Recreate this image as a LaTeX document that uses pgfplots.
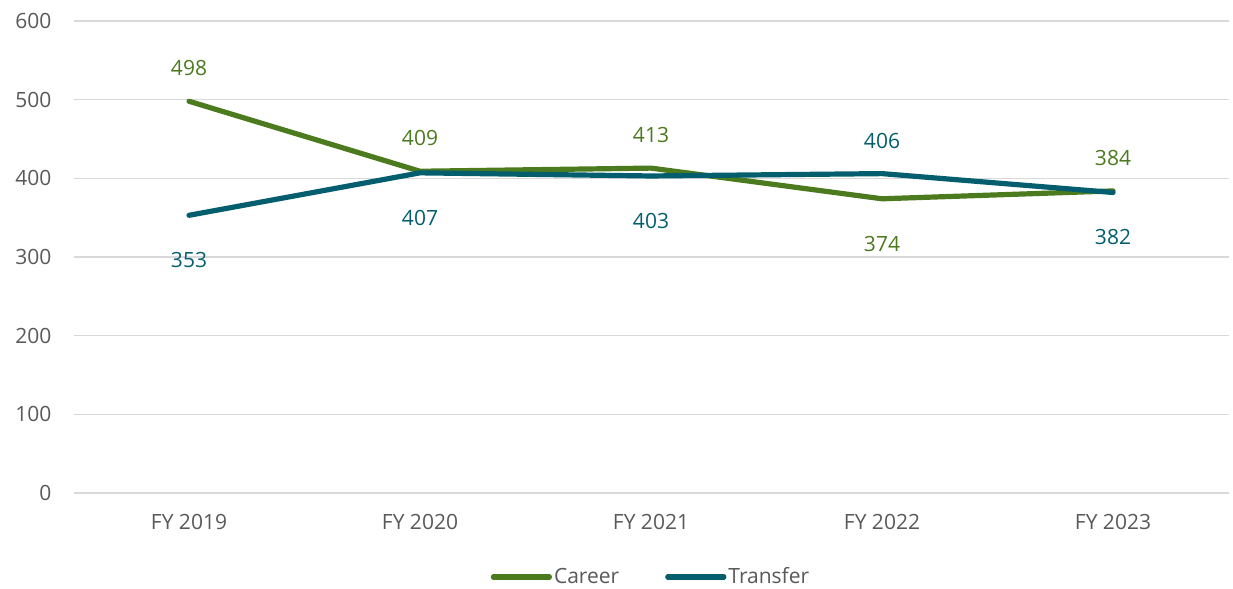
\documentclass[border=0pt]{standalone}
\usepackage{pgfplots}
\pgfplotsset{compat=1.18}
\usepackage{fontspec}
\setmainfont{Open Sans}
\definecolor{career}{RGB}{76,122,30}
\definecolor{transfer}{RGB}{4,94,110}
\definecolor{txt}{RGB}{89,89,89}
\definecolor{gridc}{RGB}{217,217,217}

\begin{document}
\begin{tikzpicture}
\useasboundingbox (-36.75pt,-48pt) rectangle (579.75pt,246.5pt);
\begin{axis}[
    scale only axis,
    width=577.5pt, height=236pt,
    xmin=-0.5, xmax=4.5, ymin=0, ymax=600,
    xtick={0,1,2,3,4},
    xticklabels={FY 2019, FY 2020, FY 2021, FY 2022, FY 2023},
    ytick={0,100,...,600},
    axis line style={draw=none},
    major tick length=0pt,
    ymajorgrids, grid style={gridc, line width=0.8pt},
    tick label style={font=\fontsize{10.5}{12}\selectfont, text=txt},
    /pgf/number format/assume math mode=true,
    xticklabel style={yshift=-7pt},
    yticklabel style={xshift=-7.5pt},
    legend style={at={(0.5,0)}, anchor=center, yshift=-42pt, draw=none,
        legend columns=-1, font=\fontsize{10.5}{12}\selectfont, text=txt,
        /tikz/every odd column/.append style={column sep=0pt},
        /tikz/every even column/.append style={column sep=22pt},
        /tikz/every node/.append style={inner xsep=1pt}},
    legend image code/.code={\draw[#1, line cap=round] (0pt,0pt) -- (28pt,0pt);},
    nodes near coords style={font=\fontsize{10.5}{12}\selectfont, anchor=center},
]
\addplot[career, line width=2.6pt, line join=round, line cap=round] coordinates {
    (0,498) (1,409) (2,413) (3,374) (4,384)
};
\addlegendentry{Career}
\addplot[transfer, line width=2.6pt, line join=round, line cap=round] coordinates {
    (0,353) (1,407) (2,403) (3,406) (4,382)
};
\addlegendentry{Transfer}
% data labels
\addplot[draw=none, forget plot, nodes near coords,
    every node near coord/.append style={text=career, yshift=16.5pt}] coordinates {
    (0,498) (1,409) (2,413) (4,384)
};
\addplot[draw=none, forget plot, nodes near coords,
    every node near coord/.append style={text=career, yshift=-22.5pt}] coordinates {
    (3,374)
};
\addplot[draw=none, forget plot, nodes near coords,
    every node near coord/.append style={text=transfer, yshift=-22.5pt}] coordinates {
    (0,353) (1,407) (2,403) (4,382)
};
\addplot[draw=none, forget plot, nodes near coords,
    every node near coord/.append style={text=transfer, yshift=16.5pt}] coordinates {
    (3,406)
};
\end{axis}
\end{tikzpicture}
\end{document}
